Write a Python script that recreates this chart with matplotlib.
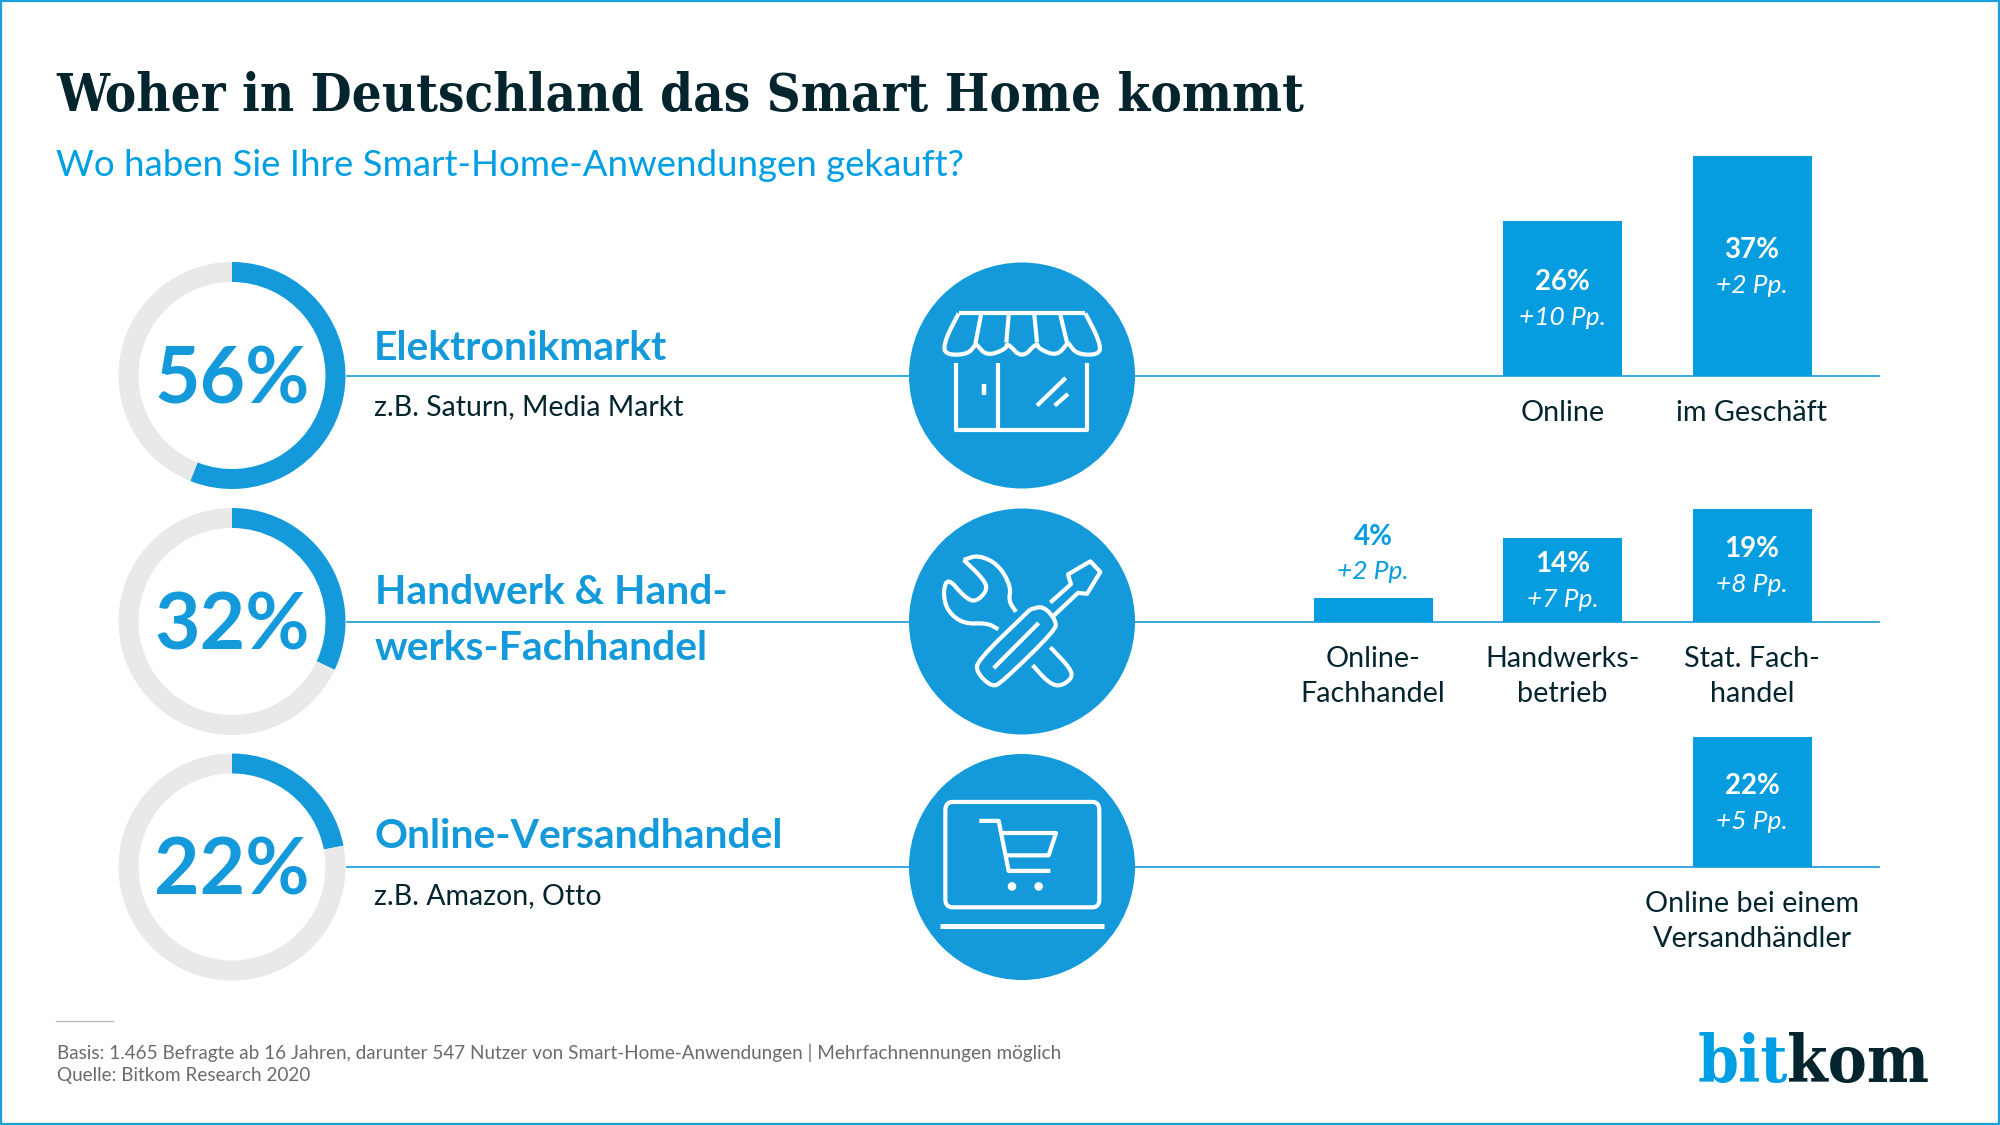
#!/usr/bin/env python3
"""
Woher in Deutschland das Smart Home kommt - bitkom chart
"""

import matplotlib
matplotlib.use('Agg')
import matplotlib.pyplot as plt
from matplotlib.patches import Circle, Rectangle

# Data
donut_values = [56, 32, 22]
donut_labels = ['56%', '32%', '22%']

row1_labels = ['Online', 'im Geschäft']
row1_values = [26, 37]
row1_deltas = ['+10 Pp.', '+2 Pp.']

row2_labels = ['Online-\nFachhandel', 'Handwerks-\nbetrieb', 'Stat. Fach-\nhandel']
row2_values = [4, 14, 19]
row2_deltas = ['+2 Pp.', '+7 Pp.', '+8 Pp.']

row3_labels = ['Online bei einem\nVersandhändler']
row3_values = [22]
row3_deltas = ['+5 Pp.']

BLUE = '#149ADA'
BAR = '#069CE0'
CYAN = '#009FE3'
DARK = '#04242E'
GREY = '#E9E9E9'
SANS = 'Lato'
W, H = 2000, 1125

fig = plt.figure(figsize=(20, 11.25), dpi=100, facecolor='white')
px = fig.add_axes([0, 0, 1, 1])
px.set_xlim(0, W)
px.set_ylim(H, 0)
px.axis('off')


def slab_text(x, y, s, size, color):
    """Bold slab text, the narrow cut of DejaVu Serif comes closest"""
    px.text(x, y, s, family='DejaVu Serif', stretch='condensed', weight='bold',
            fontsize=size, color=color, va='baseline')


def px_axes(x0, y0, x1, y1):
    """Axes placed with pixel corners, y counted from the top"""
    ax = fig.add_axes([x0 / W, 1 - y1 / H, (x1 - x0) / W, (y1 - y0) / H])
    ax.axis('off')
    ax.patch.set_alpha(0)
    return ax


def chaikin(pts, n=3):
    """Round the corners of an open polyline"""
    for _ in range(n):
        out = [pts[0]]
        for a, b in zip(pts[:-1], pts[1:]):
            out.append((a[0] * .75 + b[0] * .25, a[1] * .75 + b[1] * .25))
            out.append((a[0] * .25 + b[0] * .75, a[1] * .25 + b[1] * .75))
        out.append(pts[-1])
        pts = out
    return pts


def icon_line(pts, cy, smooth=0, lw=3.0):
    """Icon stroke, points given relative to the crop grid of the icon"""
    if smooth:
        pts = chaikin(pts, smooth)
    xs = [1022 + (p[0] - 425) / 3 for p in pts]
    ys = [cy + (p[1] - 280) / 2.06 for p in pts]
    px.plot(xs, ys, color='white', lw=lw, solid_capstyle='butt', solid_joinstyle='round', zorder=5)


# Frame
px.add_patch(Rectangle((1, 1), W - 2, H - 2, fill=False, ec='#1A9FDC', lw=1.6, zorder=10))

# Heading
slab_text(56, 111, 'Woher in Deutschland das Smart Home kommt', 37.8, DARK)
px.text(56, 176, 'Wo haben Sie Ihre Smart-Home-Anwendungen gekauft?', family=SANS,
        fontsize=26.4, color=CYAN, va='baseline')

# Rows
row_y = [375.5, 621.5, 867]
for y in row_y:
    px.plot([347, 1879], [y, y], color=BLUE, lw=1.2, zorder=1)
    px.add_patch(Circle((1022, y), 113, fc=BLUE, ec='none', zorder=2))

# Donuts
for y, value, label in zip(row_y, donut_values, donut_labels):
    ax = px_axes(232 - 113.5, y - 113.5, 232 + 113.5, y + 113.5)
    ax.pie([value, 100 - value], colors=[BLUE, GREY], startangle=90, counterclock=False,
           radius=1, wedgeprops={'width': 20 / 113.5, 'linewidth': 0})
    ax.set_xlim(-1, 1)
    ax.set_ylim(-1, 1)
    ax.text(0, -0.05, label, ha='center', va='center', family=SANS, weight='bold',
            fontsize=56.5, color=BLUE)

# Row titles
px.text(374, 360, 'Elektronikmarkt', family=SANS, weight='bold', fontsize=29.4, color=BLUE)
px.text(374, 415, 'z.B. Saturn, Media Markt', family=SANS, fontsize=20.5, color=DARK)
px.text(375, 604, 'Handwerk & Hand-', family=SANS, weight='bold', fontsize=29.4, color=BLUE)
px.text(375, 660, 'werks-Fachhandel', family=SANS, weight='bold', fontsize=29.4, color=BLUE)
px.text(374, 848, 'Online-Versandhandel', family=SANS, weight='bold', fontsize=29.4, color=BLUE)
px.text(374, 904, 'z.B. Amazon, Otto', family=SANS, fontsize=20.5, color=DARK)

# Bars
rows = [
    (row_y[0], row1_labels, row1_values, row1_deltas),
    (row_y[1], row2_labels, row2_values, row2_deltas),
    (row_y[2], row3_labels, row3_values, row3_deltas),
]
SLOT = 189.5
UNIT = 5.93  # pixels per percent
for y, labels, values, deltas in rows:
    ax = px_axes(1373 - SLOT / 2, y - 40 * UNIT, 1752 + SLOT / 2, y)
    ax.set_xlim(-0.5, 2.5)
    ax.set_ylim(0, 40)
    slots = list(range(3 - len(values), 3))
    ax.bar(slots, values, width=119 / SLOT, color=BAR)
    for x, label, value, delta in zip(slots, labels, values, deltas):
        if value < 10:
            anchor, color, off = value, BAR, (44, 19)
        else:
            anchor, color, off = value / 2, 'white', (11.5, -14)
        ax.annotate(f'{value}%', (x, anchor), xytext=(0, off[0]), textcoords='offset points',
                    ha='center', va='center', family=SANS, weight='bold', fontsize=20, color=color)
        ax.annotate(delta, (x, anchor), xytext=(0, off[1]), textcoords='offset points',
                    ha='center', va='center', family=SANS, style='italic', fontsize=19, color=color)
        for i, line in enumerate(label.split('\n')):
            ax.annotate(line, (x, 0), xytext=(0, -27 - 25 * i), textcoords='offset points',
                        ha='center', va='center', family=SANS, fontsize=20.7, color=DARK,
                        annotation_clip=False)

# Shop icon
cy = row_y[0]
icon_line([(235, 152), (615, 152)], cy)
icon_line([(235, 152), (195, 205), (190, 237), (262, 237), (287, 215)], cy, 3)
icon_line([(287, 215), (320, 240), (378, 225), (380, 212), (425, 245), (470, 212), (475, 225), (530, 240), (563, 212)], cy, 2)
icon_line([(563, 212), (590, 237), (662, 237), (655, 205), (615, 152)], cy, 3)
icon_line([(302, 155), (285, 215)], cy)
icon_line([(385, 155), (378, 212)], cy)
icon_line([(462, 155), (470, 212)], cy)
icon_line([(540, 155), (560, 212)], cy)
icon_line([(228, 255), (228, 392), (620, 392), (620, 255)], cy)
icon_line([(353, 255), (353, 392)], cy)
icon_line([(310, 297), (310, 320)], cy, lw=3.2)
icon_line([(470, 342), (556, 285)], cy)
icon_line([(523, 342), (563, 318)], cy)

# Tools icon, grid shifted to the second circle
cy = row_y[1] - (787 - 280) / 2.06
icon_line([(250, 660), (310, 700), (322, 722), (285, 748), (250, 735), (203, 697), (188, 725), (200, 765), (250, 792), (320, 790), (354, 803)], cy, 2)
icon_line([(250, 660), (295, 650), (355, 670), (392, 715), (385, 745), (407, 767)], cy, 2)
icon_line([(510, 840), (572, 885), (575, 905), (535, 922), (500, 910), (457, 877)], cy, 2)
icon_line([(450, 762), (490, 755), (527, 785), (525, 805), (365, 912), (335, 922), (290, 893), (290, 868), (450, 762)], cy, 2)
icon_line([(340, 883), (475, 790)], cy)
icon_line([(510, 748), (572, 710), (563, 690), (630, 663), (660, 685), (620, 730), (593, 728), (520, 775)], cy)

# Cart icon, grid shifted to the third circle
cy = row_y[2] - (1292 - 280) / 2.06
icon_line([(240, 1158), (615, 1158), (657, 1158), (657, 1195), (657, 1340), (657, 1375), (615, 1375),
           (240, 1375), (195, 1375), (195, 1340), (195, 1195), (195, 1158), (240, 1158)], cy, 3)
icon_line([(180, 1413), (670, 1413)], cy, lw=3.6)
icon_line([(297, 1197), (355, 1197), (385, 1300), (510, 1300)], cy)
icon_line([(365, 1222), (527, 1222), (505, 1268), (378, 1268)], cy)
for wx in [395, 475]:
    px.add_patch(Circle((1022 + (wx - 425) / 3, cy + (1332 - 280) / 2.06), 4.3, fc='white', ec='none', zorder=5))

# Footer
px.plot([56, 113], [1021, 1021], color='#BBBBBB', lw=1, zorder=1)
px.text(57, 1053, 'Basis: 1.465 Befragte ab 16 Jahren, darunter 547 Nutzer von Smart-Home-Anwendungen | Mehrfachnennungen möglich',
        family=SANS, fontsize=13.55, color='#6B6B6B', va='center')
px.text(57, 1076, 'Quelle: Bitkom Research 2020', family=SANS, fontsize=13.55, color='#6B6B6B', va='center')

# Logo
slab_text(1698, 1082, 'bit', 47, CYAN)
slab_text(1787, 1082, 'kom', 47, DARK)

plt.savefig('out.png', dpi=100)
